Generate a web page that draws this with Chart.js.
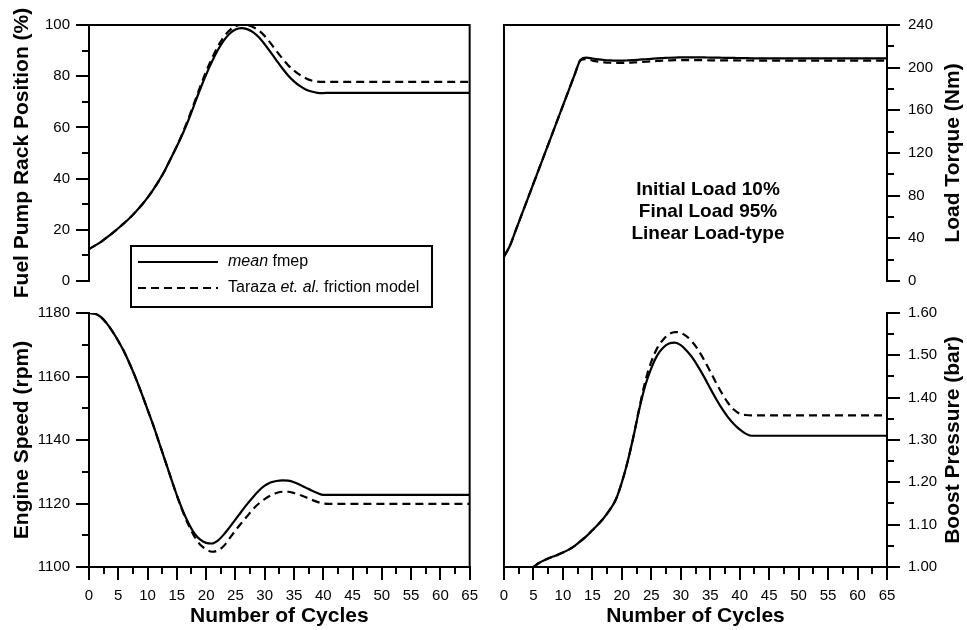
<!DOCTYPE html>
<html>
<head>
<meta charset="utf-8">
<script src="https://cdn.jsdelivr.net/npm/chart.js@4.4.1/dist/chart.umd.min.js"></script>
<style>
  html, body { margin: 0; padding: 0; background: #fff; }
  #wrap { position: relative; width: 967px; height: 630px; overflow: hidden; }
  #leftBox { position: absolute; left: 0; top: 0; width: 485px; height: 630px; }
  #rightBox { position: absolute; left: 485px; top: 0; width: 482px; height: 630px; }
</style>
</head>
<body>
<div id="wrap">
  <div id="leftBox"><canvas id="leftChart"></canvas></div>
  <div id="rightBox"><canvas id="rightChart"></canvas></div>
</div>
<script>
// --- Data ---
const cycles = [0, 1, 2, 3, 4, 5, 6, 7, 8, 9, 10, 11, 12, 13, 14, 15, 16, 17, 18, 19, 20,
  21, 22, 23, 24, 25, 26, 27, 28, 29, 30, 31, 32, 33, 34, 35, 36, 37, 38, 39, 40, 41, 42,
  45, 50, 55, 60, 65];

const seriesNames = ['mean fmep', 'Taraza et. al. friction model'];

// Fuel pump rack position (%)
const rackMean = [12.5, 13.8, 15.2, 16.9, 18.7, 20.6, 22.6, 24.7, 27.1, 29.7, 32.6,
  35.8, 39.4, 43.4, 48.0, 52.6, 57.5, 63.0, 69.0, 75.0, 80.6,
  85.7, 90.2, 93.9, 96.6, 98.2, 98.8, 98.4, 97.2, 95.2, 92.5,
  89.4, 86.2, 83.1, 80.3, 78.0, 76.2, 74.8, 74.0, 73.5, 73.4, 73.5, 73.5,
  73.5, 73.5, 73.5, 73.5, 73.5];
const rackTaraza = [12.5, 13.8, 15.2, 16.9, 18.7, 20.6, 22.6, 24.7, 27.1, 29.7, 32.6,
  35.8, 39.4, 43.4, 48.0, 52.7, 57.9, 63.6, 69.8, 76.0, 81.8,
  87.0, 91.6, 95.3, 97.9, 99.5, 100.0, 99.9, 99.2, 97.8, 95.7,
  92.9, 89.9, 87.0, 84.3, 82.2, 80.5, 79.2, 78.3, 77.9, 77.8, 77.8, 77.8,
  77.8, 77.8, 77.8, 77.8, 77.8];

// Engine speed (rpm)
const speedMean = [1180, 1179.8, 1178.8, 1176.8, 1174.2, 1171.2, 1167.8, 1163.8, 1159.4, 1154.6, 1149.6,
  1144.5, 1139.0, 1133.5, 1128.0, 1122.6, 1117.8, 1113.8, 1110.6, 1108.6, 1107.6,
  1107.4, 1108.3, 1110.2, 1112.5, 1114.9, 1117.4, 1119.8, 1122.0, 1124.0, 1125.6,
  1126.6, 1127.1, 1127.3, 1127.2, 1126.7, 1125.9, 1125.0, 1124.1, 1123.3, 1122.7, 1122.7, 1122.7,
  1122.7, 1122.7, 1122.7, 1122.7, 1122.7];
const speedTaraza = [1180, 1179.8, 1178.8, 1176.8, 1174.2, 1171.2, 1167.8, 1163.8, 1159.4, 1154.6, 1149.6,
  1144.5, 1139.0, 1133.5, 1128.0, 1122.5, 1117.5, 1113.2, 1109.6, 1107.0, 1105.6,
  1104.8, 1105.2, 1106.6, 1109.0, 1111.5, 1113.8, 1116.0, 1118.2, 1120.0, 1121.4,
  1122.5, 1123.3, 1123.7, 1123.7, 1123.3, 1122.7, 1122.0, 1121.2, 1120.5, 1120.0, 1119.9, 1119.9,
  1119.9, 1119.9, 1119.9, 1119.9, 1119.9];

// Load torque (Nm)
const torqueMean = [23, 33, 47.6, 62.2, 76.8, 91.4, 106, 120.6, 135.2, 149.8, 164.4,
  179, 193.6, 207.5, 209.5, 208.6, 207.8, 207.2, 206.8, 206.6, 206.6,
  206.8, 207.1, 207.5, 207.9, 208.3, 208.7, 209.0, 209.3, 209.5, 209.6,
  209.7, 209.7, 209.7, 209.6, 209.5, 209.4, 209.3, 209.2, 209.1, 209.0, 208.9, 208.8,
  208.7, 208.7, 208.7, 208.7, 208.7];
const torqueTaraza = [23, 33, 47.6, 62.2, 76.8, 91.4, 106, 120.6, 135.2, 149.8, 164.4,
  179, 193.6, 207.0, 208.0, 206.6, 205.6, 205.0, 204.6, 204.4, 204.4,
  204.6, 204.9, 205.2, 205.6, 206.0, 206.3, 206.6, 206.8, 207.0, 207.0,
  207.0, 207.0, 207.0, 207.0, 206.9, 206.9, 206.8, 206.8, 206.8, 206.7, 206.7, 206.7,
  206.6, 206.6, 206.6, 206.6, 206.6];

// Boost pressure (bar)
const boostMean = [null, null, null, null, null, 1.000, 1.010, 1.017, 1.023, 1.028, 1.034,
  1.041, 1.050, 1.061, 1.073, 1.087, 1.101, 1.117, 1.136, 1.160, 1.200,
  1.250, 1.310, 1.375, 1.430, 1.470, 1.500, 1.518, 1.528, 1.530, 1.524,
  1.511, 1.494, 1.472, 1.448, 1.422, 1.397, 1.374, 1.354, 1.338, 1.325, 1.315, 1.310,
  1.310, 1.310, 1.310, 1.310, 1.310];
const boostTaraza = [null, null, null, null, null, 1.000, 1.010, 1.017, 1.023, 1.028, 1.034,
  1.041, 1.050, 1.061, 1.073, 1.087, 1.101, 1.117, 1.136, 1.160, 1.200,
  1.250, 1.310, 1.378, 1.440, 1.485, 1.517, 1.537, 1.550, 1.555, 1.553,
  1.545, 1.531, 1.512, 1.488, 1.462, 1.435, 1.410, 1.388, 1.372, 1.362, 1.359, 1.358,
  1.358, 1.358, 1.358, 1.358, 1.358];

const noteLines = ['Initial Load 10%', 'Final Load 95%', 'Linear Load-type'];

// --- Setup ---
const FONT = "'Liberation Sans', Arial, Helvetica, sans-serif";
Chart.defaults.font.family = FONT;
Chart.defaults.color = '#000';
Chart.defaults.animation = false;

const DASH = [8, 5];

function toPoints(values) {
  return cycles.map((c, i) => ({ x: c, y: values[i] }));
}

function lineSet(label, values, axisId, dashed) {
  return {
    label: label,
    data: toPoints(values),
    yAxisID: axisId,
    borderColor: '#000',
    borderWidth: 2.2,
    borderDash: dashed ? DASH : [],
    pointRadius: 0,
    fill: false,
    cubicInterpolationMode: 'monotone'
  };
}

function xAxis() {
  return {
    type: 'linear', position: 'bottom', min: 0, max: 65,
    ticks: { stepSize: 5, padding: 7, font: { size: 15 }, autoSkip: false, maxRotation: 0 },
    grid: { drawOnChartArea: false, tickLength: 13, lineWidth: 2, tickWidth: 2, tickColor: '#000' },
    border: { color: '#000', width: 2 },
    title: { display: true, text: 'Number of Cycles', font: { size: 21, weight: 'bold' }, padding: { top: 0, bottom: 1 } },
    afterFit: function (s) { s.height = 63; }
  };
}

function yAxis(pos, order, weight, min, max, step, title, width, fmt) {
  return {
    type: 'linear', position: pos, stack: pos, stackWeight: weight, weight: order,
    min: min, max: max,
    ticks: { stepSize: step, padding: pos === 'left' ? 6 : 8, font: { size: 15 }, autoSkip: false,
      callback: fmt || function (v) { return v; } },
    grid: { drawOnChartArea: false, tickLength: 13, lineWidth: 2, tickWidth: 2, tickColor: '#000' },
    border: { color: '#000', width: 2 },
    title: { display: pos === 'left', text: title, font: { size: 21, weight: 'bold' }, padding: { top: 10, bottom: 0 } },
    afterFit: function (s) { s.width = width; }
  };
}

function spacer(pos, order) {
  return { type: 'linear', display: false, position: pos, stack: pos, stackWeight: 32, weight: order, min: 0, max: 1 };
}

// frame lines, minor ticks and extra text
const extrasPlugin = {
  id: 'extras',
  afterDraw: function (chart, args, opts) {
    const ctx = chart.ctx;
    const a = chart.chartArea;
    ctx.save();
    ctx.strokeStyle = '#000';
    ctx.lineWidth = 2;
    ctx.lineCap = 'square';

    // frame
    ctx.beginPath();
    ctx.moveTo(a.left, a.top);
    ctx.lineTo(a.right, a.top);
    if (opts.frameRight) {
      ctx.moveTo(a.right, a.top);
      ctx.lineTo(a.right, a.bottom);
    }
    if (opts.frameLeft) {
      ctx.moveTo(a.left, a.top);
      ctx.lineTo(a.left, a.bottom);
    }
    ctx.stroke();

    // minor ticks
    ctx.lineCap = 'butt';
    ctx.beginPath();
    Object.keys(opts.minor).forEach(function (id) {
      const sc = chart.scales[id];
      const first = opts.minor[id][0];
      const step = opts.minor[id][1];
      for (let v = first; v < sc.max; v += step) {
        const p = Math.round(sc.getPixelForValue(v));
        if (sc.isHorizontal()) {
          ctx.moveTo(p, sc.top);
          ctx.lineTo(p, sc.top + 7);
        } else if (sc.position === 'left') {
          ctx.moveTo(sc.right - 7, p);
          ctx.lineTo(sc.right, p);
        } else {
          ctx.moveTo(sc.left, p);
          ctx.lineTo(sc.left + 7, p);
        }
      }
    });
    ctx.stroke();

    if (opts.draw) opts.draw(chart, ctx, a);
    ctx.restore();
  }
};

function drawRuns(ctx, x, y, runs, size) {
  runs.forEach(function (r) {
    ctx.font = (r.italic ? 'italic ' : '') + size + 'px ' + FONT;
    ctx.fillText(r.text, x, y);
    x += ctx.measureText(r.text).width;
  });
}

function drawLegend(chart, ctx, a) {
  const bx = a.left + 42, by = a.top + 221, bw = 301, bh = 61;
  ctx.fillStyle = '#fff';
  ctx.fillRect(bx, by, bw, bh);
  ctx.lineWidth = 2;
  ctx.strokeRect(bx, by, bw, bh);

  const rows = [
    { y: by + 16, dash: [], runs: [{ text: 'mean', italic: true }, { text: ' fmep' }] },
    { y: by + 42, dash: DASH, runs: [{ text: 'Taraza ' }, { text: 'et. al.', italic: true }, { text: ' friction model' }] }
  ];
  rows.forEach(function (row) {
    ctx.beginPath();
    ctx.setLineDash(row.dash);
    ctx.lineWidth = 2.2;
    ctx.moveTo(bx + 7, row.y);
    ctx.lineTo(bx + 87, row.y);
    ctx.stroke();
    ctx.setLineDash([]);
    ctx.fillStyle = '#000';
    ctx.textBaseline = 'middle';
    ctx.textAlign = 'left';
    drawRuns(ctx, bx + 97, row.y, row.runs, 16);
  });
}

function drawRightExtras(chart, ctx, a) {
  ctx.fillStyle = '#000';
  ctx.textAlign = 'center';
  ctx.textBaseline = 'middle';
  ctx.font = 'bold 19px ' + FONT;
  noteLines.forEach(function (t, i) {
    ctx.fillText(t, a.left + 204, 190 + i * 22);
  });

  // right axis titles, reading upwards
  [['yTorque', 'Load Torque (Nm)'], ['yBoost', 'Boost Pressure (bar)']].forEach(function (p) {
    const sc = chart.scales[p[0]];
    ctx.save();
    ctx.translate(sc.right - 14, (sc.top + sc.bottom) / 2);
    ctx.rotate(-Math.PI / 2);
    ctx.font = 'bold 21px ' + FONT;
    ctx.fillText(p[1], 0, 0);
    ctx.restore();
  });
}

// --- Left column: rack position + engine speed ---
new Chart(document.getElementById('leftChart'), {
  type: 'line',
  data: {
    datasets: [
      lineSet(seriesNames[0], rackMean, 'yRack', false),
      lineSet(seriesNames[1], rackTaraza, 'yRack', true),
      lineSet(seriesNames[0], speedMean, 'ySpeed', false),
      lineSet(seriesNames[1], speedTaraza, 'ySpeed', true)
    ]
  },
  options: {
    responsive: true,
    maintainAspectRatio: false,
    layout: { padding: { top: 25, right: 13, bottom: 0, left: 0 } },
    plugins: {
      legend: { display: false },
      tooltip: { enabled: false },
      extras: { frameRight: true, frameLeft: false, draw: drawLegend,
        minor: { x: [2.5, 5], yRack: [10, 20], ySpeed: [1110, 20] } }
    },
    scales: {
      x: xAxis(),
      yRack: yAxis('left', 3, 256, 0, 100, 20, 'Fuel Pump Rack Position (%)', 89),
      yGapL: spacer('left', 2),
      ySpeed: yAxis('left', 1, 254, 1100, 1180, 20, 'Engine Speed (rpm)', 89)
    }
  },
  plugins: [extrasPlugin]
});

// --- Right column: load torque + boost pressure ---
new Chart(document.getElementById('rightChart'), {
  type: 'line',
  data: {
    datasets: [
      lineSet(seriesNames[0], torqueMean, 'yTorque', false),
      lineSet(seriesNames[1], torqueTaraza, 'yTorque', true),
      lineSet(seriesNames[0], boostMean, 'yBoost', false),
      lineSet(seriesNames[1], boostTaraza, 'yBoost', true)
    ]
  },
  options: {
    responsive: true,
    maintainAspectRatio: false,
    layout: { padding: { top: 25, right: 0, bottom: 0, left: 19 } },
    plugins: {
      legend: { display: false },
      tooltip: { enabled: false },
      extras: { frameRight: false, frameLeft: true, draw: drawRightExtras,
        minor: { x: [2.5, 5], yTorque: [20, 40], yBoost: [1.05, 0.1] } }
    },
    scales: {
      x: xAxis(),
      yTorque: yAxis('right', 1, 256, 0, 240, 40, 'Load Torque (Nm)', 80),
      yGapR: spacer('right', 2),
      yBoost: yAxis('right', 3, 254, 1.0, 1.6, 0.1, 'Boost Pressure (bar)', 80,
        function (v) { return v.toFixed(2); })
    }
  },
  plugins: [extrasPlugin]
});
</script>
</body>
</html>
